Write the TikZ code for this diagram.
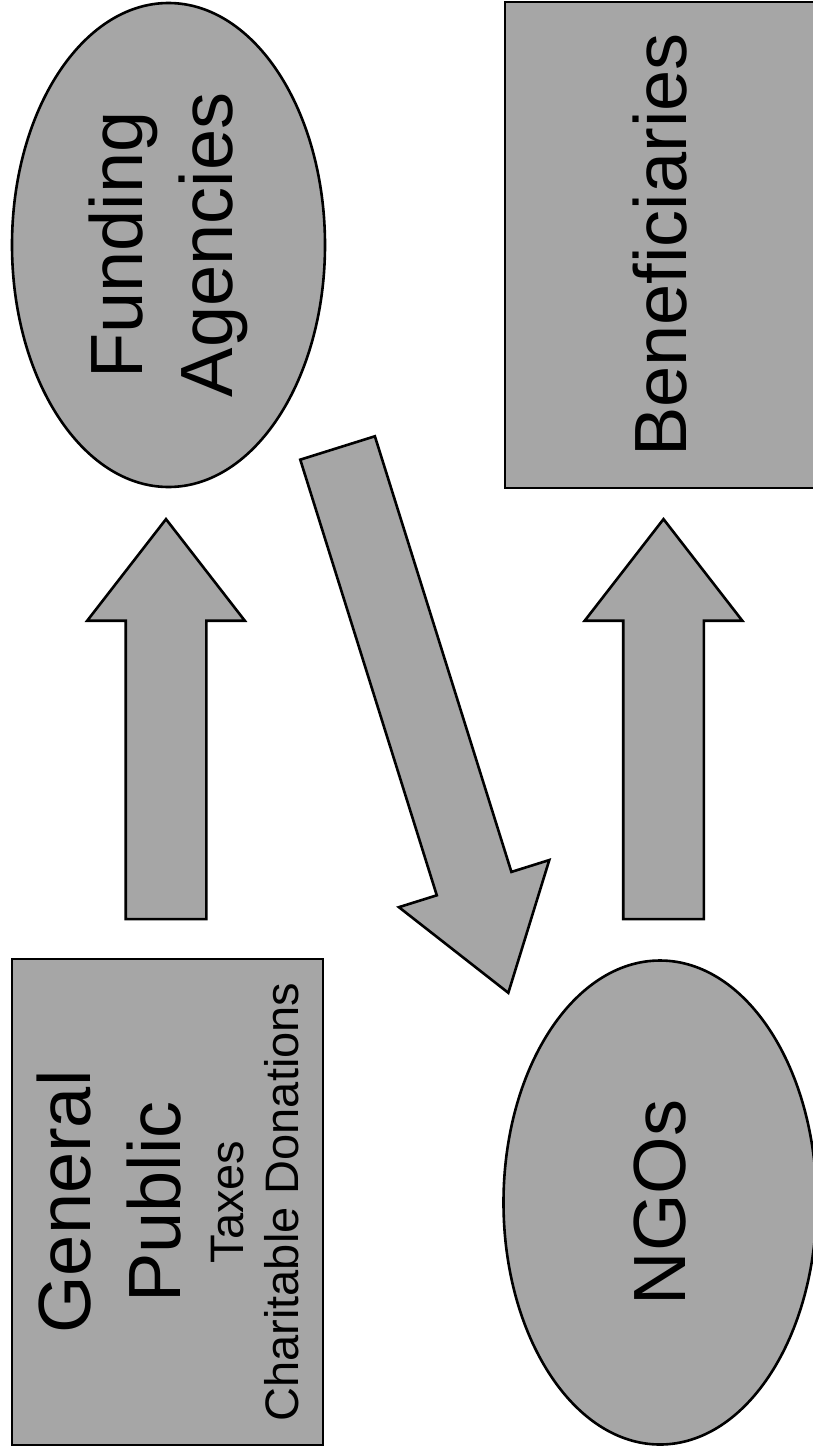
\documentclass[tikz,border=0pt]{standalone}
\usepackage{fontspec}
\setmainfont{Liberation Sans}
\usetikzlibrary{shapes.geometric, shapes.arrows}
\tikzset{
  dotfill/.style={fill=black!35, draw=black, line width=2.6pt},
  boxnode/.style={
    dotfill, rectangle, rotate=90, inner sep=0pt,
    minimum width=486pt, minimum height=311pt, align=center
  },
  ovalnode/.style={
    dotfill, ellipse, rotate=90, inner sep=0pt,
    minimum width=484pt, minimum height=313pt, align=center
  },
  blockarrow/.style={
    dotfill, single arrow, anchor=tip, inner xsep=0pt, inner ysep=39pt,
    single arrow head extend=38.5pt, single arrow tip angle=75.6
  },
  bigtext/.style={font=\fontsize{74}{90}\selectfont},
}
\newcommand{\smalltext}{\fontsize{47}{55}\selectfont}

\begin{document}
\begin{tikzpicture}[x=1pt, y=-1pt]
  \useasboundingbox (0,0) rectangle (812,1453);

  \node[ovalnode, bigtext] (fund) at (168.5,245)  {Funding\\Agencies};
  \node[boxnode,  bigtext] (bene) at (660.5,245)  {Beneficiaries};
  \node[boxnode, font=\fontsize{74}{55}\selectfont]
                           (pub)  at (167.5,1202)
    {General\\[35pt]Public\\[8pt]{\smalltext Taxes}\\{\smalltext Charitable Donations}};
  \node[ovalnode, bigtext] (ngo)  at (660,1202.5) {NGOs};

  % money flows
  \node[blockarrow, rotate=90, minimum height=400pt] (give) at (166,517) {};
  \node[blockarrow, rotate=-72.6, minimum height=571pt, inner ysep=37.8pt,
        single arrow head extend=39.7pt, single arrow tip angle=69.1]
                                                   (grant) at (509,995) {};
  \node[blockarrow, rotate=90, minimum height=400pt] (serve) at (663.5,517) {};
\end{tikzpicture}
\end{document}
